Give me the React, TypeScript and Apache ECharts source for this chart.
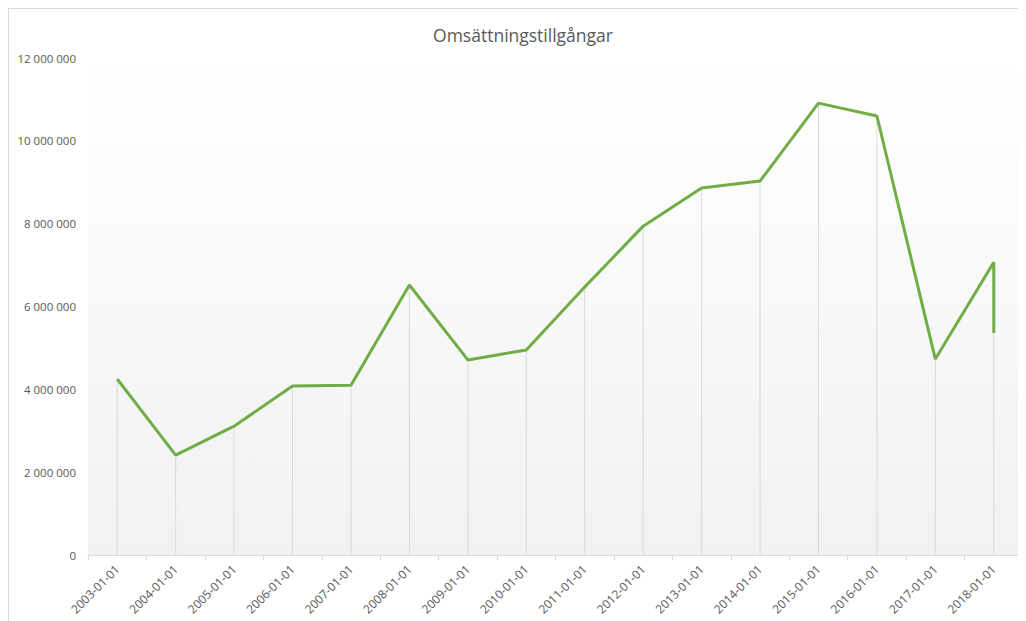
import React, { useEffect, useRef } from "react";
import * as echarts from "echarts";

const titleText = "Omsättningstillgångar";
const categories = [
  "2003-01-01", "2004-01-01", "2005-01-01", "2006-01-01", "2007-01-01", "2008-01-01",
  "2009-01-01", "2010-01-01", "2011-01-01", "2012-01-01", "2013-01-01", "2014-01-01",
  "2015-01-01", "2016-01-01", "2017-01-01", "2018-01-01",
];
const values = [
  4250000, 2410000, 3110000, 4080000, 4100000, 6520000,
  4710000, 4950000, 6470000, 7940000, 8860000, 9030000,
  10910000, 10600000, 4730000, 7070000,
];
// a second value recorded on the last date
const tailCategory = "2018-01-01";
const tailValue = 5360000;
const yTicks = [0, 2000000, 4000000, 6000000, 8000000, 10000000, 12000000];

const fmt = (v: number) => String(Math.round(v)).replace(/\B(?=(\d{3})+(?!\d))/g, " ");

export default function App() {
  const ref = useRef<HTMLDivElement>(null);
  useEffect(() => {
    if (!ref.current) return;
    const chart = echarts.init(ref.current, undefined, { renderer: "svg" });
    const lineData: [string, number][] = categories.map((c, i) => [c, values[i]] as [string, number]);
    lineData.push([tailCategory, tailValue]);
    const dropData = categories.map((c, i) => {
      const extra = c === tailCategory ? tailValue : -Infinity;
      return Math.max(values[i], extra);
    });
    const font = "'Open Sans', 'Liberation Sans', sans-serif";
    chart.setOption({
      animation: false,
      textStyle: { fontFamily: font },
      title: {
        text: titleText,
        left: 509,
        top: 12,
        textAlign: "center",
        textStyle: { fontFamily: font, fontSize: 17.5, fontWeight: "normal", color: "#595959" },
      },
      grid: {
        left: 79,
        top: 49,
        right: 3,
        bottom: 66,
        show: true,
        borderWidth: 0,
        backgroundColor: new echarts.graphic.LinearGradient(0, 0, 0, 1, [
          { offset: 0, color: "#ffffff" },
          { offset: 1, color: "#f1f1f1" },
        ]),
      },
      xAxis: {
        type: "category",
        data: categories,
        boundaryGap: true,
        axisLine: { lineStyle: { color: "#d9d9d9", width: 1 } },
        axisTick: { show: true, length: 5, lineStyle: { color: "#d9d9d9" } },
        axisLabel: { rotate: 45, color: "#595959", fontSize: 12, margin: 12, fontFamily: font },
        splitLine: { show: false },
      },
      yAxis: {
        type: "value",
        min: 0,
        max: yTicks[yTicks.length - 1],
        interval: yTicks[1] - yTicks[0],
        axisLine: { show: false },
        axisTick: { show: false },
        splitLine: { show: false },
        axisLabel: { color: "#595959", fontSize: 11.5, margin: 12, fontFamily: font, formatter: (v: number) => fmt(v) },
      },
      series: [
        {
          type: "bar",
          data: dropData,
          barWidth: 1,
          itemStyle: { color: "#d9d9d9" },
          silent: true,
          z: 1,
        },
        {
          type: "line",
          data: lineData,
          symbol: "none",
          lineStyle: { color: "#70ad47", width: 3 },
          itemStyle: { color: "#70ad47" },
          z: 3,
        },
      ],
    });
    return () => chart.dispose();
  }, []);
  return (
    <div
      ref={ref}
      style={{
        width: 1017,
        height: 612,
        borderTop: "1px solid #d9d9d9",
        borderLeft: "1px solid #d9d9d9",
      }}
    />
  );
}
